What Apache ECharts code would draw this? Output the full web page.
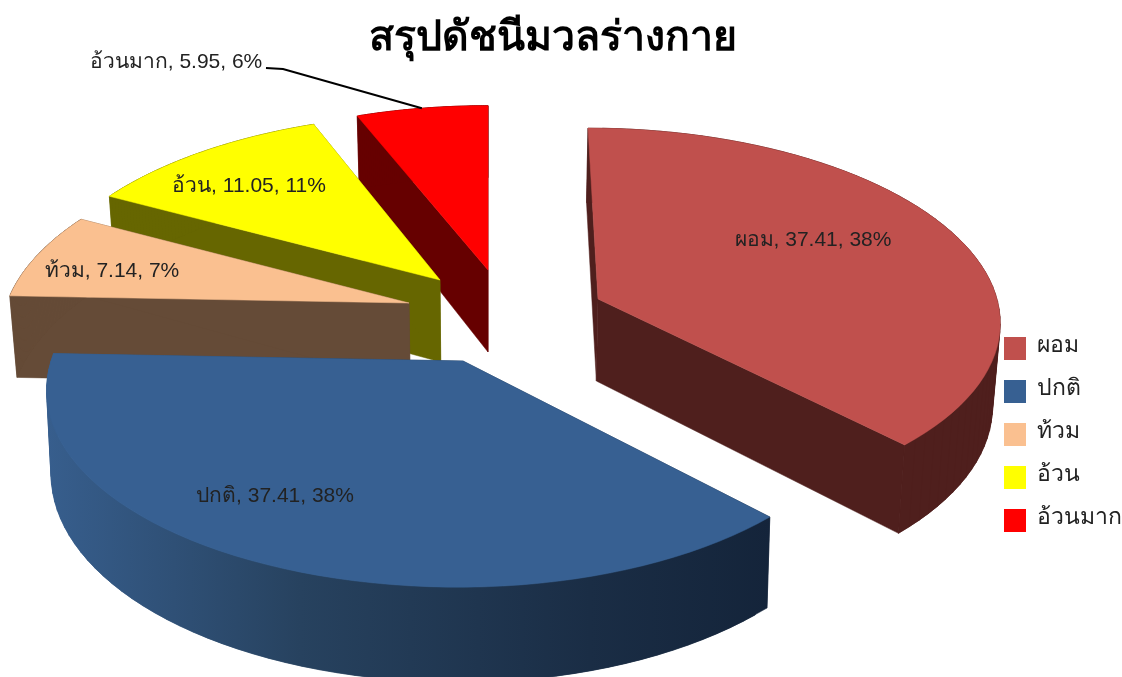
<!DOCTYPE html>
<html>
<head>
<meta charset="utf-8">
<title>สรุปดัชนีมวลร่างกาย</title>
<script src="https://cdn.jsdelivr.net/npm/echarts@6/dist/echarts.min.js"></script>
<style>
  html, body { margin: 0; padding: 0; background: #fff; }
  #chart { width: 1122px; height: 677px; }
</style>
</head>
<body>
<div id="chart"></div>
<script>
// data
const categories = ["ผอม", "ปกติ", "ท้วม", "อ้วน", "อ้วนมาก"];
const values = [37.41, 37.41, 7.14, 11.05, 5.95];
const colors = ["#C0504D", "#376092", "#FAC090", "#FFFF00", "#FF0000"];

// 3d look, one entry per slice
const apexX = [598, 463, 409, 440, 488];
const apexY = [299, 361, 303, 280, 270];
const radiusLeft = [399, 412, 402, 403, 400];
const radiusRight = [399, 402, 402, 403, 400];
const radiusY = [188, 195, 189, 189, 187];
const perspective = [0.1, 0.138, 0.138, 0.138, 0.138];
const shrink = [0.985, 0.99, 0.985, 0.985, 0.985];
const wallColors = ["#4F1F1D", null, "#654B37", "#666600", "#660000"];
const labelX = [813, 275, 112, 249, 176];
const labelY = [240, 496, 271, 186, 62];
const drawOrder = [3, 5, 2, 1, 0]; // far slices first

const FONT = '"Liberation Sans", "Noto Sans", sans-serif';
const VANISH_X = 488;
const DEPTH = 82;

const total = values.reduce((a, b) => a + b, 0);
const startAngles = [];
values.reduce((sum, v, i) => {
  startAngles[i] = (sum / total) * Math.PI * 2;
  return sum + v;
}, 0);

// angle counted clockwise from top
function topPoint(i, angle, r) {
  const u = r * Math.sin(angle);
  const v = -r * Math.cos(angle);
  const w = 1 - perspective[i] * v;
  const rx = u < 0 ? radiusLeft[i] : radiusRight[i];
  return [
    apexX[i] + (rx * u) / w + (apexX[i] - VANISH_X) * (1 / w - 1),
    apexY[i] + (radiusY[i] * v) / w,
    w,
  ];
}

function bottomPoint(i, angle, r) {
  const p = topPoint(i, angle, r);
  return [VANISH_X + (p[0] - VANISH_X) * shrink[i], p[1] + DEPTH / p[2]];
}

function wallFill(i) {
  if (wallColors[i]) return wallColors[i];
  // blue slice has the shaded front wall
  return new echarts.graphic.LinearGradient(
    47, 0, 771, 0,
    [
      { offset: 0, color: "#375E8D" },
      { offset: 0.35, color: "#27425F" },
      { offset: 0.75, color: "#1A2D45" },
      { offset: 1, color: "#14243A" },
    ],
    true
  );
}

function renderSlice(i, api) {
  const value = api.value(0);
  const start = startAngles[i];
  const end = start + (value / total) * Math.PI * 2;
  const steps = 60;
  const topArc = [];
  const bottomArc = [];
  for (let s = 0; s <= steps; s++) {
    const a = start + ((end - start) * s) / steps;
    topArc.push(topPoint(i, a, 1).slice(0, 2));
    bottomArc.push(bottomPoint(i, a, 1));
  }
  const apexTop = topPoint(i, start, 0).slice(0, 2);
  const apexBottom = bottomPoint(i, start, 0);
  const fill = wallFill(i);
  const poly = (points, color) => ({
    type: "polygon",
    shape: { points },
    style: { fill: color, stroke: color, lineWidth: 0.5 },
  });

  const children = [
    poly([apexTop, topArc[0], bottomArc[0], apexBottom], fill),
    poly([apexTop, topArc[steps], bottomArc[steps], apexBottom], fill),
  ];
  // outer wall in overlapping pieces, one big polygon leaves holes where it folds over
  for (let s = 0; s < steps; s++) {
    const n = Math.min(s + 2, steps);
    children.push(poly([topArc[s], topArc[n], bottomArc[n], bottomArc[s]], fill));
  }
  children.push(poly([apexTop].concat(topArc), colors[i]));

  // อ้วนมาก sits outside its slice, so it gets a leader line
  if (i === 4) {
    const mid = topPoint(i, (start + end) / 2, 1);
    children.push({
      type: "polyline",
      shape: { points: [[266, 68], [283, 69], [mid[0], mid[1]]] },
      style: { fill: "none", stroke: "#000", lineWidth: 2 },
    });
  }

  children.push({
    type: "text",
    x: labelX[i],
    y: labelY[i],
    style: {
      text: `${categories[i]}, ${value}, ${Math.round((value / total) * 100)}%`,
      fontSize: 21,
      fontFamily: FONT,
      fill: "#222",
      align: "center",
      verticalAlign: "middle",
    },
  });
  return { type: "group", children };
}

const chart = echarts.init(document.getElementById("chart"));
chart.setOption({
  backgroundColor: "#fff",
  animation: false,
  title: {
    text: "สรุปดัชนีมวลร่างกาย",
    left: 548,
    top: 13,
    textAlign: "center",
    textStyle: { fontSize: 41, fontWeight: "bold", color: "#000", fontFamily: FONT },
  },
  legend: {
    orient: "vertical",
    left: 1004,
    top: 334.5,
    padding: 0,
    itemWidth: 22,
    itemHeight: 23,
    itemGap: 15,
    icon: "rect",
    selectedMode: false,
    data: categories,
    formatter: (name) => `{t|${name}}`,
    textStyle: {
      rich: {
        t: { fontSize: 23, color: "#222", fontFamily: FONT, padding: [0, 0, 5, 6], lineHeight: 18 },
      },
    },
  },
  series: categories.map((name, i) => ({
    type: "custom",
    name,
    coordinateSystem: "none",
    z: drawOrder[i],
    itemStyle: { color: colors[i] },
    data: [[values[i]]],
    renderItem: (params, api) => renderSlice(i, api),
  })),
});
</script>
</body>
</html>
